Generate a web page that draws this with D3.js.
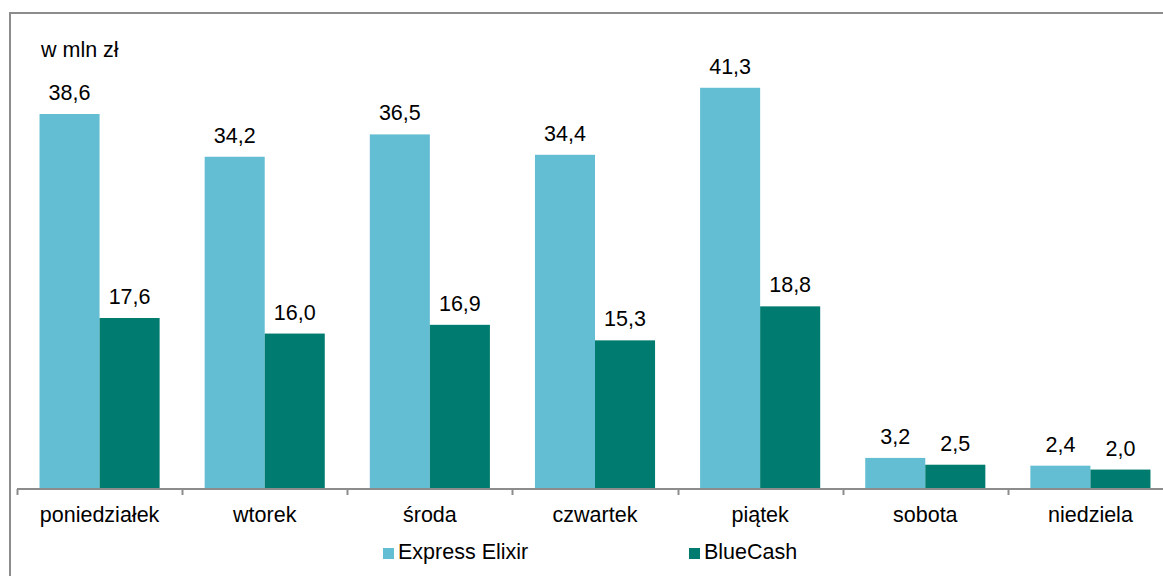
<!DOCTYPE html>
<html>
<head>
<meta charset="utf-8">
<script src="https://cdn.jsdelivr.net/npm/d3@7"></script>
<style>
  html, body { margin: 0; padding: 0; background: #fff; }
  svg { display: block; font-family: "Liberation Sans", Arial, sans-serif; }
</style>
</head>
<body>
<svg id="chart" width="1163" height="576"></svg>
<script>
// Days of the week and daily values (w mln zł) for the two systems
const categories = ["poniedziałek", "wtorek", "środa", "czwartek", "piątek", "sobota", "niedziela"];
const seriesNames = ["Express Elixir", "BlueCash"];
const expressElixir = [38.6, 34.2, 36.5, 34.4, 41.3, 3.2, 2.4];
const blueCash = [17.6, 16.0, 16.9, 15.3, 18.8, 2.5, 2.0];
const seriesColors = ["#63bed3", "#007b6f"];
const unitLabel = "w mln zł";

const seriesValues = [expressElixir, blueCash];
const rows = categories.map((c, i) => ({
  category: c,
  values: seriesNames.map((s, j) => ({ series: s, value: seriesValues[j][i], color: seriesColors[j] }))
}));

const svg = d3.select("#chart");
const fontSize = 21.5;
const fmt = v => v.toFixed(1).replace(".", ",");

const baseY = 489;
const x0 = d3.scaleBand().domain(categories).range([17, 1173]).paddingInner(0).paddingOuter(0);
const x1 = d3.scaleBand().domain(seriesNames).range([0, x0.bandwidth()]).paddingInner(0).paddingOuter(0.375);
const y = d3.scaleLinear().domain([0, 40]).range([baseY, baseY - 388.6]);

// Outer frame (left and top edges)
svg.append("path")
  .attr("d", "M10,576 L10,13 L1163,13")
  .attr("fill", "none")
  .attr("stroke", "#8c8c8c")
  .attr("stroke-width", 2);

// Unit label
svg.append("text")
  .attr("x", 41).attr("y", 57)
  .attr("font-size", fontSize)
  .attr("fill", "#000")
  .text(unitLabel);

// Bars
const groups = svg.append("g").selectAll("g")
  .data(rows)
  .join("g")
  .attr("transform", d => `translate(${x0(d.category)},0)`);

groups.selectAll("rect")
  .data(d => d.values)
  .join("rect")
  .attr("x", d => x1(d.series))
  .attr("width", x1.bandwidth())
  .attr("y", d => y(d.value))
  .attr("height", d => y(0) - y(d.value))
  .attr("fill", d => d.color);

// Value labels above bars
groups.selectAll("text")
  .data(d => d.values)
  .join("text")
  .attr("x", d => x1(d.series) + x1.bandwidth() / 2)
  .attr("y", d => y(d.value) - 14)
  .attr("text-anchor", "middle")
  .attr("font-size", fontSize)
  .attr("fill", "#000")
  .text(d => fmt(d.value));

// Category axis
const axis = svg.append("g")
  .attr("transform", `translate(0,${baseY})`)
  .call(d3.axisBottom(x0).tickSize(0).tickPadding(0));
axis.select(".domain").remove();
axis.selectAll(".tick text")
  .attr("y", 33)
  .attr("dy", 0)
  .attr("font-size", fontSize)
  .attr("font-family", "Liberation Sans, Arial, sans-serif")
  .attr("fill", "#000");

axis.append("line")
  .attr("x1", 17).attr("x2", 1163)
  .attr("y1", 0).attr("y2", 0)
  .attr("stroke", "#8c8c8c")
  .attr("stroke-width", 2);

axis.selectAll(".sep")
  .data(categories)
  .join("line")
  .attr("class", "sep")
  .attr("x1", d => Math.round(x0(d)) + 0.5)
  .attr("x2", d => Math.round(x0(d)) + 0.5)
  .attr("y1", 0).attr("y2", 6)
  .attr("stroke", "#8c8c8c")
  .attr("stroke-width", 2);

// Legend
const legendX = [383, 689];
const legend = svg.append("g").selectAll("g")
  .data(seriesNames)
  .join("g")
  .attr("transform", (d, i) => `translate(${legendX[i]},548)`);
legend.append("rect")
  .attr("width", 11).attr("height", 11)
  .attr("fill", (d, i) => seriesColors[i]);
legend.append("text")
  .attr("x", 15).attr("y", 11)
  .attr("font-size", fontSize)
  .attr("fill", "#000")
  .text(d => d);
</script>
</body>
</html>
